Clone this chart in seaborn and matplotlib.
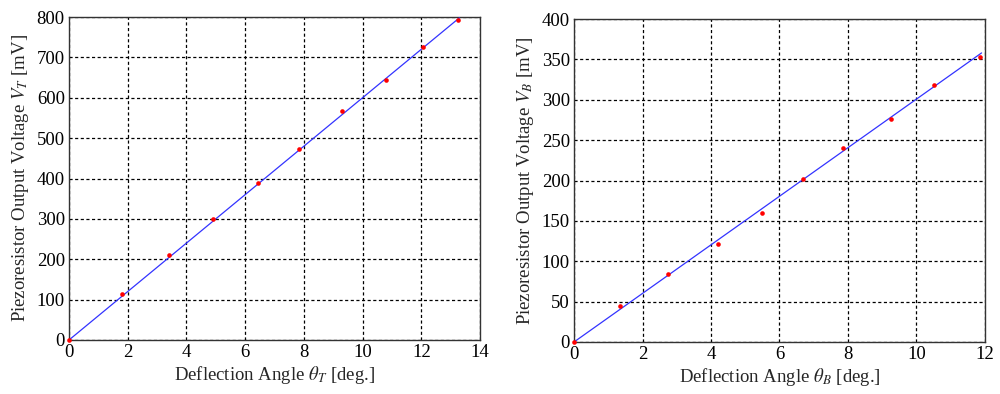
import numpy as np
import pandas as pd
import matplotlib
matplotlib.use("Agg")
import matplotlib.pyplot as plt
import seaborn as sns

# Data
theta_T = [0, 1.8, 3.4, 4.9, 6.45, 7.85, 9.3, 10.8, 12.05, 13.25]
V_T = [0, 115, 210, 300, 390, 472, 568, 643, 725, 792]
fit_T_x = [0, 13.3]
fit_T_y = [0, 798]

theta_B = [0, 1.35, 2.75, 4.2, 5.5, 6.7, 7.85, 9.25, 10.5, 11.85]
V_B = [0, 44, 84, 121, 160, 202, 240, 276, 318, 353]
fit_B_x = [0, 11.9]
fit_B_y = [0, 358]

sns.set_style("white")
plt.rcParams['font.family'] = ['Liberation Serif', 'DejaVu Serif']
plt.rcParams['mathtext.fontset'] = 'stix'

fig = plt.figure(figsize=(10, 3.94), dpi=100)
ax1 = fig.add_axes([0.069, 54/394, 0.411, 323/394])
ax2 = fig.add_axes([0.574, 52/394, 0.411, 323/394])

panels = [
    (ax1, theta_T, V_T, fit_T_x, fit_T_y, (0, 14), np.arange(0, 15, 2), (0, 800), np.arange(0, 801, 100),
     r'Deflection Angle $\theta_T$ [deg.]', r'Piezoresistor Output Voltage $V_T$ [mV]'),
    (ax2, theta_B, V_B, fit_B_x, fit_B_y, (0, 12), np.arange(0, 13, 2), (0, 400), np.arange(0, 401, 50),
     r'Deflection Angle $\theta_B$ [deg.]', r'Piezoresistor Output Voltage $V_B$ [mV]'),
]

for ax, x, y, fx, fy, xl, xt, yl, yt, xlab, ylab in panels:
    df = pd.DataFrame({'x': x, 'y': y})
    dfit = pd.DataFrame({'x': fx, 'y': fy})
    sns.lineplot(data=dfit, x='x', y='y', ax=ax, color='#3333ff', lw=0.9, zorder=3)
    sns.scatterplot(data=df, x='x', y='y', ax=ax, color='red', s=11, linewidth=0, zorder=4, clip_on=False)
    ax.set_xlim(*xl)
    ax.set_ylim(*yl)
    ax.set_xticks(xt)
    ax.set_yticks(yt)
    ax.grid(True, color='black', linestyle=(0, (2.5, 2)), linewidth=0.9)
    ax.set_axisbelow(True)
    for s in ax.spines.values():
        s.set_color('#333333')
        s.set_linewidth(1.0)
    ax.tick_params(axis='both', labelsize=13.5, length=0, pad=3, colors='black')
    ax.set_xlabel(xlab, fontsize=13.5, labelpad=2)
    ax.set_ylabel(ylab, fontsize=13.5, labelpad=4)

fig.savefig('out.png', dpi=100)
